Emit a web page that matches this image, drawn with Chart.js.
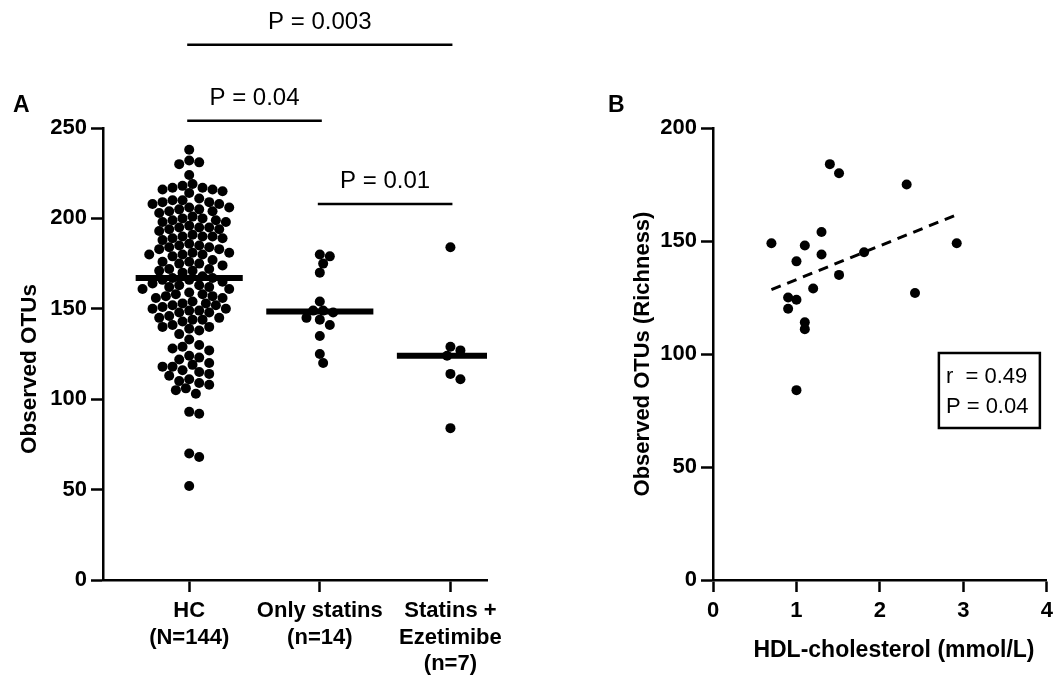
<!DOCTYPE html>
<html>
<head>
<meta charset="utf-8" />
<title>Observed OTUs</title>
<script src="https://cdn.jsdelivr.net/npm/chart.js"></script>
<style>
  body { margin: 0; background: #fff; }
  #wrap { position: relative; width: 1059px; height: 680px; }
  canvas { position: absolute; top: 0; }
</style>
</head>
<body>
<div id="wrap">
  <canvas id="chartA" width="520" height="680" style="left:0"></canvas>
  <canvas id="chartB" width="539" height="680" style="left:520px"></canvas>
</div>
<script>
// ---- panel A data ----
const groupLabels = [['HC', '(N=144)'], ['Only statins', '(n=14)'], ['Statins +', 'Ezetimibe', '(n=7)']];
const hcOTUs = [
  238, 232, 231, 230, 224,
  219, 218, 217, 217, 216, 216, 215, 214,
  211, 210, 210, 209, 209, 208, 208,
  206, 206, 205, 205, 204, 204, 203,
  201, 200, 200, 199, 199, 198, 198,
  196, 195, 195, 195, 194, 194, 193,
  191, 190, 190, 190, 189, 189, 188,
  186, 185, 185, 184, 184, 183, 183,
  181, 181, 180, 180, 180, 179,
  177, 176, 176, 175, 175, 174,
  172, 172, 171, 171, 170,
  168, 167, 167, 166, 166, 165,
  164, 163, 163, 162, 162, 161, 161,
  159, 158, 158, 157, 157, 156, 156,
  154, 153, 153, 152, 152, 151,
  150, 150, 149, 149, 148, 148,
  146, 145, 145, 144, 144, 143,
  141, 140, 140, 139, 138,
  136, 133,
  130, 129, 128, 127,
  124, 123, 122,
  120, 119, 118, 118,
  116, 115, 114, 113,
  111, 110, 109, 108,
  106, 105, 103,
  93, 92, 70, 68, 52
];
const statinOTUs = [179, 180, 175, 170, 154, 149, 148, 149, 145, 144, 141, 135, 125, 120];
const ezetimibeOTUs = [184, 127, 129, 124, 114, 111, 84];
const groupMedians = [167, 148.5, 124];
const comparisons = [
  { from: 0, to: 2, label: 'P = 0.003' },
  { from: 0, to: 1, label: 'P = 0.04' },
  { from: 1, to: 2, label: 'P = 0.01' }
];
const titleA = 'Observed OTUs';

// ---- panel B data ----
const hdlChol = [0.7, 1.4, 1.51, 2.32, 1.3, 1.1, 1.3, 1.0, 1.81, 2.92, 1.51, 1.2, 0.9, 1.0, 0.9, 2.42, 1.1, 1.1, 1.0];
const richness = [149, 184, 180, 175, 154, 148, 144, 141, 145, 149, 135, 129, 125, 124, 120, 127, 114, 111, 84];
const statsText = ['r  = 0.49', 'P = 0.04'];
const titleBx = 'HDL-cholesterol (mmol/L)';

const FONT = '"Liberation Sans", Arial, Helvetica, sans-serif';
Chart.defaults.font.family = FONT;
Chart.defaults.color = '#000';

const groups = [hcOTUs, statinOTUs, ezetimibeOTUs];
const DOT_R = 5;

function axisStyle() {
  return {
    grid: { drawOnChartArea: false, drawTicks: true, tickLength: 12, tickColor: '#000', tickWidth: 2.5 },
    border: { color: '#000', width: 2.5 }
  };
}
const tickFont = { size: 22, weight: 'bold' };

// ---- panel A ----
const bracketPlugin = {
  id: 'brackets',
  afterDraw(chart) {
    const { ctx, chartArea: ca, scales: { x, y } } = chart;
    const levels = [296, 254, 208];
    ctx.save();
    ctx.strokeStyle = '#000';
    ctx.fillStyle = '#000';
    ctx.lineWidth = 2.5;
    ctx.textAlign = 'center';
    ctx.font = '24px ' + FONT;
    comparisons.forEach((c, i) => {
      const x1 = x.getPixelForValue(c.from + 1) - 2;
      const x2 = x.getPixelForValue(c.to + 1) + 2;
      const yy = y.getPixelForValue(levels[i]);
      ctx.beginPath();
      ctx.moveTo(x1, yy);
      ctx.lineTo(x2, yy);
      ctx.stroke();
      ctx.fillText(c.label, (x1 + x2) / 2, yy - 16);
    });
    // y-axis title (sits a little below the axis centre, as in the figure)
    ctx.font = 'bold 22.5px ' + FONT;
    ctx.textBaseline = 'middle';
    ctx.translate(30, (ca.top + ca.bottom) / 2 + 15);
    ctx.rotate(-Math.PI / 2);
    ctx.fillText(titleA, 0, 0);
    ctx.restore();
    ctx.save();
    ctx.fillStyle = '#000';
    ctx.font = 'bold 23px ' + FONT;
    ctx.fillText('A', 13, 112);
    ctx.restore();
  }
};

const datasetsA = groups.map((vals, g) => ({
  data: vals.map(v => ({ x: g + 1, y: v })),
  backgroundColor: '#000',
  pointRadius: DOT_R,
  pointBorderWidth: 0,
  showLine: false
})).concat(groupMedians.map((m, g) => ({
  data: [{ x: g + 1 - 0.41, y: m }, { x: g + 1 + 0.41, y: m }],
  showLine: true,
  borderColor: '#000',
  borderWidth: 6,
  borderCapStyle: 'butt',
  pointRadius: 0
})));

const chartA = new Chart(document.getElementById('chartA'), {
  type: 'scatter',
  data: { datasets: datasetsA },
  options: {
    responsive: false,
    animation: false,
    layout: { padding: { top: 128, right: 33, left: 0, bottom: 0 } },
    plugins: { legend: { display: false }, tooltip: { enabled: false } },
    scales: {
      x: {
        type: 'linear', min: 0.34, max: 3.28,
        ...axisStyle(),
        afterBuildTicks: s => { s.ticks = groupLabels.map((_, i) => ({ value: i + 1 })); },
        afterFit: s => { s.height = 100; },
        ticks: { font: tickFont, color: '#000', padding: 6, maxRotation: 0, autoSkip: false,
          callback: v => groupLabels[Math.round(v) - 1] }
      },
      y: {
        min: 0, max: 250,
        ...axisStyle(),
        afterFit: s => { s.width = 103; },
        ticks: { stepSize: 50, font: tickFont, color: '#000', padding: 4 }
      }
    }
  },
  plugins: [bracketPlugin]
});

// beeswarm placement in pixel space, converted back to x values
function swarm(values, center, xs, ys, diam) {
  const order = values.map((_, i) => i).sort((a, b) => values[b] - values[a]);
  const placed = [];
  const out = new Array(values.length);
  const cx = xs.getPixelForValue(center);
  order.forEach(i => {
    const py = ys.getPixelForValue(values[i]);
    let k = 0, px;
    for (;;) {
      const off = k === 0 ? 0 : Math.ceil(k / 2) * (k % 2 ? 1 : -1) * diam / 3;
      px = cx + off;
      if (placed.every(p => (p[0] - px) ** 2 + (p[1] - py) ** 2 >= diam * diam * 0.88)) break;
      k++;
    }
    placed.push([px, py]);
    out[i] = xs.getValueForPixel(px);
  });
  return out;
}

groups.forEach((vals, g) => {
  const xv = swarm(vals, g + 1, chartA.scales.x, chartA.scales.y, DOT_R * 2);
  chartA.data.datasets[g].data = vals.map((v, i) => ({ x: xv[i], y: v }));
});
chartA.update('none');

// ---- panel B ----
function fitLine(xs, ys) {
  const n = xs.length;
  const mx = xs.reduce((a, b) => a + b, 0) / n;
  const my = ys.reduce((a, b) => a + b, 0) / n;
  let sxy = 0, sxx = 0;
  xs.forEach((x, i) => { sxy += (x - mx) * (ys[i] - my); sxx += (x - mx) ** 2; });
  const slope = sxy / sxx;
  const x0 = Math.min(...xs), x1 = Math.max(...xs);
  return [{ x: x0, y: my + slope * (x0 - mx) }, { x: x1, y: my + slope * (x1 - mx) }];
}

const statsPlugin = {
  id: 'stats',
  afterDraw(chart) {
    const { ctx, chartArea: ca, scales: { y } } = chart;
    const left = ca.right - 108, top = y.getPixelForValue(100) - 1;
    ctx.save();
    ctx.strokeStyle = '#000';
    ctx.lineWidth = 2.5;
    ctx.strokeRect(left, top, 101, 75);
    ctx.fillStyle = '#000';
    ctx.font = '22px ' + FONT;
    ctx.textBaseline = 'middle';
    statsText.forEach((t, i) => ctx.fillText(t, left + 7, top + 24 + i * 30));
    // x-axis title, set slightly right of the axis centre as in the figure
    ctx.font = 'bold 23px ' + FONT;
    ctx.textAlign = 'center';
    ctx.fillText(titleBx, (ca.left + ca.right) / 2 + 14, 651);
    ctx.textAlign = 'left';
    ctx.textBaseline = 'alphabetic';
    ctx.fillText('B', 608 - 520, 112);
    ctx.restore();
  }
};

new Chart(document.getElementById('chartB'), {
  type: 'scatter',
  data: {
    datasets: [
      {
        data: hdlChol.map((x, i) => ({ x, y: richness[i] })),
        backgroundColor: '#000',
        pointRadius: DOT_R,
        pointBorderWidth: 0
      },
      {
        data: fitLine(hdlChol, richness),
        showLine: true,
        borderColor: '#000',
        borderWidth: 3,
        borderDash: [10, 7],
        pointRadius: 0
      }
    ]
  },
  options: {
    responsive: false,
    animation: false,
    layout: { padding: { top: 128, right: 9, left: 0, bottom: 0 } },
    plugins: { legend: { display: false }, tooltip: { enabled: false } },
    scales: {
      x: {
        min: 0, max: 4,
        ...axisStyle(),
        afterFit: s => { s.height = 100; },
        ticks: { stepSize: 1, font: tickFont, color: '#000', padding: 6 }
      },
      y: {
        min: 0, max: 200,
        ...axisStyle(),
        afterFit: s => { s.width = 193; },
        ticks: { stepSize: 50, font: tickFont, color: '#000', padding: 4 },
        title: { display: true, text: 'Observed OTUs (Richness)', font: tickFont, color: '#000', padding: { top: 110, bottom: 0 } }
      }
    }
  },
  plugins: [statsPlugin]
});
</script>
</body>
</html>
